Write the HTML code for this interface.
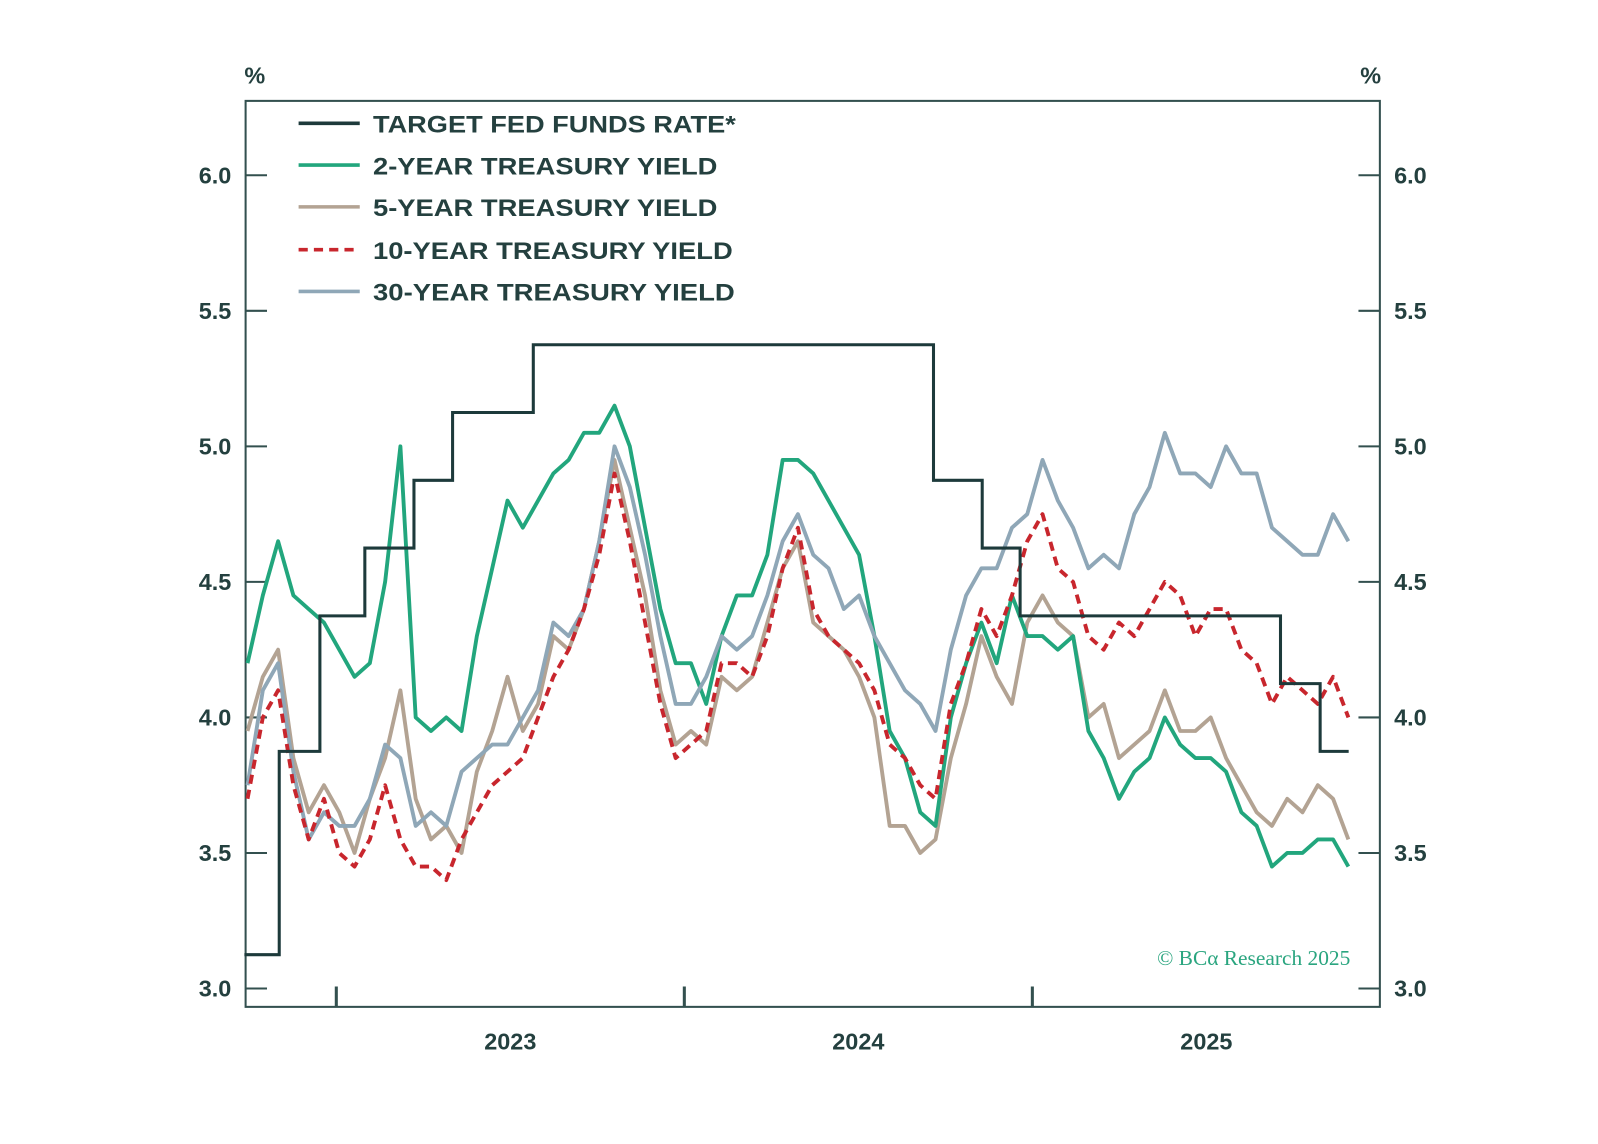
<!DOCTYPE html>
<html><head><meta charset="utf-8"><style>
html,body{margin:0;padding:0;background:#fff;}
svg{display:block;}
text{font-family:"Liberation Sans",sans-serif;fill:#24403f;}
</style></head><body>
<svg id="chart" width="1598" height="1144" viewBox="0 0 1598 1144" xmlns="http://www.w3.org/2000/svg">
<g id="root" transform="scale(1.0191)">
<g id="axes"></g>
<g id="series"></g>
<g id="legend"></g>
<text x="1325" y="947" text-anchor="end" style="font-family:'Liberation Serif',serif;font-size:21px;fill:#2aa57f">© BCα Research 2025</text>
</g>
</svg>
<script>
const yTicks=[3.0,3.5,4.0,4.5,5.0,5.5,6.0];
const yTickLabels=["3.0","3.5","4.0","4.5","5.0","5.5","6.0"];
const yearTicks=[2023,2024,2025];
const yearLabels=["2023","2024","2025"];
const startYear=2022.745, stepYear=0.04393;
const twoYear=[4.2,4.45,4.65,4.45,4.4,4.35,4.25,4.15,4.2,4.5,5.0,4.0,3.95,4.0,3.95,4.3,4.55,4.8,4.7,4.8,4.9,4.95,5.05,5.05,5.15,5.0,4.7,4.4,4.2,4.2,4.05,4.3,4.45,4.45,4.6,4.95,4.95,4.9,4.8,4.7,4.6,4.3,3.95,3.85,3.65,3.6,4.0,4.2,4.35,4.2,4.45,4.3,4.3,4.25,4.3,3.95,3.85,3.7,3.8,3.85,4.0,3.9,3.85,3.85,3.8,3.65,3.6,3.45,3.5,3.5,3.55,3.55,3.45];
const fiveYear=[3.95,4.15,4.25,3.85,3.65,3.75,3.65,3.5,3.7,3.85,4.1,3.7,3.55,3.6,3.5,3.8,3.95,4.15,3.95,4.05,4.3,4.25,4.4,4.65,4.95,4.7,4.45,4.1,3.9,3.95,3.9,4.15,4.1,4.15,4.35,4.55,4.65,4.35,4.3,4.25,4.15,4.0,3.6,3.6,3.5,3.55,3.85,4.05,4.3,4.15,4.05,4.35,4.45,4.35,4.3,4.0,4.05,3.85,3.9,3.95,4.1,3.95,3.95,4.0,3.85,3.75,3.65,3.6,3.7,3.65,3.75,3.7,3.55];
const tenYear=[3.7,4.0,4.1,3.75,3.55,3.7,3.5,3.45,3.55,3.75,3.55,3.45,3.45,3.4,3.55,3.65,3.75,3.8,3.85,4.0,4.15,4.25,4.4,4.6,4.9,4.65,4.35,4.05,3.85,3.9,3.95,4.2,4.2,4.15,4.3,4.55,4.7,4.4,4.3,4.25,4.2,4.1,3.9,3.85,3.75,3.7,4.05,4.2,4.4,4.3,4.45,4.65,4.75,4.55,4.5,4.3,4.25,4.35,4.3,4.4,4.5,4.45,4.3,4.4,4.4,4.25,4.2,4.05,4.15,4.1,4.05,4.15,4.0];
const thirtyYear=[3.75,4.1,4.2,3.8,3.55,3.65,3.6,3.6,3.7,3.9,3.85,3.6,3.65,3.6,3.8,3.85,3.9,3.9,4.0,4.1,4.35,4.3,4.4,4.65,5.0,4.85,4.6,4.3,4.05,4.05,4.15,4.3,4.25,4.3,4.45,4.65,4.75,4.6,4.55,4.4,4.45,4.3,4.2,4.1,4.05,3.95,4.25,4.45,4.55,4.55,4.7,4.75,4.95,4.8,4.7,4.55,4.6,4.55,4.75,4.85,5.05,4.9,4.9,4.85,5.0,4.9,4.9,4.7,4.65,4.6,4.6,4.75,4.65];
const fedDates=[2022.736,2022.836,2022.953,2023.082,2023.223,2023.334,2023.566,2024.716,2024.856,2024.965,2025.713,2025.827,2025.909];
const fedRates=[3.125,3.875,4.375,4.625,4.875,5.125,5.375,4.875,4.625,4.375,4.125,3.875,3.875];

const NS="http://www.w3.org/2000/svg";
const L=241,R=1354,T=99,B=988;
const xs=y=>330+(y-2023)*341.5;
const ys=v=>970-(v-3)*266;
function mk(tag,attrs,parent,text){const e=document.createElementNS(NS,tag);for(const k in attrs)e.setAttribute(k,attrs[k]);if(text!==undefined)e.textContent=text;parent.appendChild(e);return e;}
const axes=document.getElementById('axes');
const frame=mk('rect',{x:L,y:T,width:R-L,height:B-T,fill:'none',stroke:'#33504f','stroke-width':2},axes);


yTicks.forEach((v,i)=>{
  const y=ys(v);
  const t1=mk('line',{x1:L,x2:L+21,y1:y,y2:y,stroke:'#33504f','stroke-width':2},axes);
  
  
  const t2=mk('line',{x1:R-21,x2:R,y1:y,y2:y,stroke:'#33504f','stroke-width':2},axes);
  
  
  const a=mk('text',{x:227,y:y+8,'text-anchor':'end','font-size':23,'font-weight':'bold'},axes,yTickLabels[i]);
  
  
  const b=mk('text',{x:1368,y:y+8,'text-anchor':'start','font-size':23,'font-weight':'bold'},axes,yTickLabels[i]);
  
  
});
const p1=mk('text',{x:250,y:82,'text-anchor':'middle','font-size':23,'font-weight':'bold'},axes,'%');


const p2=mk('text',{x:1345,y:82,'text-anchor':'middle','font-size':23,'font-weight':'bold'},axes,'%');


yearTicks.forEach((yr,i)=>{
  const x=xs(yr);
  const t=mk('line',{x1:x,x2:x,y1:B-20,y2:B,stroke:'#33504f','stroke-width':3},axes);
  
  
  const lb=mk('text',{x:xs(yr+0.5),y:1030,'text-anchor':'middle','font-size':23,'font-weight':'bold'},axes,yearLabels[i]);
  
  
});
const series=document.getElementById('series');
function linePts(vals){return vals.map((v,i)=>xs(startYear+i*stepYear).toFixed(1)+','+ys(v).toFixed(1)).join(' ');}
const defs=[
 {vals:fiveYear,color:'#b3a393',dash:null,name:'line-5-year'},
 {vals:twoYear,color:'#22a67d',dash:null,name:'line-2-year'},
 {vals:thirtyYear,color:'#8fa7b7',dash:null,name:'line-30-year'},
 {vals:tenYear,color:'#c8262d',dash:'9 6',name:'line-10-year'}
];
defs.forEach(d=>{
  const pl=mk('polyline',{points:linePts(d.vals),fill:'none',stroke:d.color,'stroke-width':3.8,'stroke-linejoin':'round'},series);
  if(d.dash)pl.setAttribute('stroke-dasharray',d.dash);
  
  
});
let fp=[];
fedDates.forEach((d,i)=>{
  if(i>0)fp.push(xs(d).toFixed(1)+','+ys(fedRates[i-1]).toFixed(1));
  fp.push(xs(d).toFixed(1)+','+ys(fedRates[i]).toFixed(1));
});
const fed=mk('polyline',{points:fp.join(' '),fill:'none',stroke:'#1d3a3b','stroke-width':3},series);


const legend=document.getElementById('legend');
const legItems=[
 ['TARGET FED FUNDS RATE*','#1d3a3b',null,356],
 ['2-YEAR TREASURY YIELD','#22a67d',null,338],
 ['5-YEAR TREASURY YIELD','#b3a393',null,338],
 ['10-YEAR TREASURY YIELD','#c8262d','9 6',353],
 ['30-YEAR TREASURY YIELD','#8fa7b7',null,355]
];
const legY=[121,162,203,245,286];
legItems.forEach((it,i)=>{
  const ln=mk('line',{x1:293,x2:353,y1:legY[i],y2:legY[i],stroke:it[1],'stroke-width':3.5},legend);
  if(it[2])ln.setAttribute('stroke-dasharray',it[2]);
  
  
  const tx=mk('text',{x:366,y:legY[i]+9,'font-size':24,'font-weight':'bold',textLength:it[3],lengthAdjust:'spacingAndGlyphs'},legend,it[0]);
  
  
});
</script>
</body></html>
